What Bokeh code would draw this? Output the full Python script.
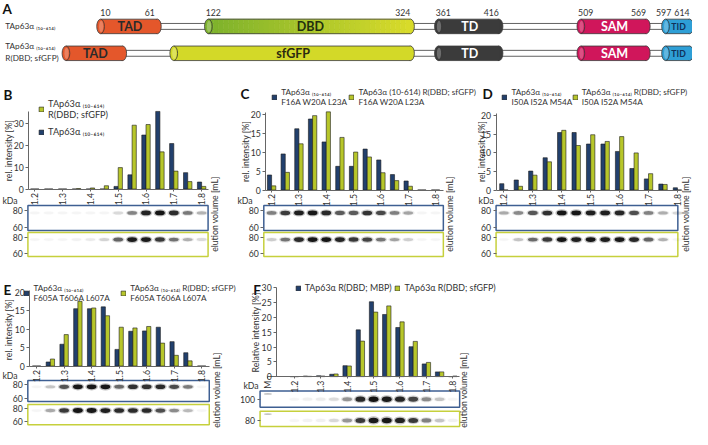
import numpy as np
from bokeh.plotting import figure
from bokeh.models import Range1d, LinearAxis, FixedTicker, Label, Legend, LegendItem, ColumnDataSource
from bokeh.layouts import column, row
from bokeh.embed import file_html
from bokeh.resources import INLINE
from bokeh.core.properties import value

SX = 692 / 708
SY = 429 / 445
FONT = "Lato"
TXT = "#333333"
AXC = "#666666"
BLUE = "#22406d"
GREEN = "#b7c62a"
BLUE_BOX = "#3e5f92"
GREEN_BOX = "#c6d03c"


def fs(px):
    return f"{px * SY:.1f}px"


SUB = "\u208d\u2081\u2080\u208b\u2086\u2081\u2084\u208e"
TAP = "TAp63\u03b1 " + SUB

# ---------------- data ----------------
# panel A: domain boundaries (residues)
dom_names_1 = ["TAD", "DBD", "TD", "SAM", "TID"]
dom_start_1 = [10, 122, 361, 509, 597]
dom_end_1 = [61, 324, 416, 569, 614]
sfgfp_len = 238
shift = sfgfp_len - (324 - 122)
dom_names_2 = ["TAD", "sfGFP", "TD", "SAM", "TID"]
dom_start_2 = [10 - shift, 324 - sfgfp_len, 361, 509, 597]
dom_end_2 = [61 - shift, 324, 416, 569, 614]

# elution fractions [mL]
fractions = [1.2, 1.25, 1.3, 1.35, 1.4, 1.45, 1.5, 1.55, 1.6, 1.65, 1.7, 1.75, 1.8]
vol_ticks = [1.2, 1.3, 1.4, 1.5, 1.6, 1.7, 1.8]
vol_labels = ["1.2", "1.3", "1.4", "1.5", "1.6", "1.7", "1.8"]

B_wt = [0, 0, 0, 0, 0, 0, 1.2, 6.5, 24.7, 35.5, 20.8, 7.5, 3.2]
B_gfp = [0, 0, 0, 0.2, 0.5, 1.5, 9.8, 29.2, 29.5, 17.0, 8.2, 3.4, 1.2]
C_wt = [4.0, 9.6, 16.3, 18.9, 12.8, 6.3, 6.3, 10.9, 8.0, 4.1, 2.4, 0, 0]
C_gfp = [1.1, 4.7, 12.3, 19.8, 20.8, 14.0, 10.1, 8.8, 4.6, 2.5, 1.0, 0, 0]
D_wt = [1.7, 2.7, 5.1, 8.7, 15.5, 15.5, 12.4, 12.4, 10.4, 5.8, 3.0, 1.6, 0.6]
D_gfp = [0, 1.0, 4.0, 7.6, 16.1, 12.0, 14.9, 13.1, 14.4, 10.0, 4.4, 1.5, 0]
E_wt = [0, 1.1, 5.9, 15.5, 15.5, 16.0, 4.5, 9.4, 9.5, 10.5, 6.6, 3.6, 0]
E_gfp = [0, 1.9, 8.5, 17.5, 15.7, 13.6, 10.5, 10.3, 10.7, 6.2, 2.9, 1.4, 0]
F_mbp = [0, 0.2, 0.3, 0.8, 3.7, 15.8, 25.3, 21.0, 16.6, 10.1, 4.3, 1.6, 0]
F_gfp = [0, 0.1, 0.2, 0.9, 3.6, 12.0, 21.8, 23.9, 18.5, 11.9, 4.8, 1.6, 0.2]

gel_markers = [80, 60]


# ---------------- panel A ----------------
def blend(c1, c2, t):
    a = np.array([int(c1[i:i + 2], 16) for i in (1, 3, 5)])
    b = np.array([int(c2[i:i + 2], 16) for i in (1, 3, 5)])
    m = (a + (b - a) * t).astype(int)
    return "#%02x%02x%02x" % tuple(m)


DOM_COL = {
    "TAD": ["#e4572b"],
    "DBD": [blend("#7db22c", "#d8db2a", t) for t in np.linspace(0, 1, 40)],
    "sfGFP": ["#d3d928"],
    "TD": ["#3b3b3b"],
    "SAM": ["#d0165b"],
    "TID": ["#2e9fd6"],
}
DOM_TXT = {"TAD": "#2a2a2a", "DBD": "#22300e", "sfGFP": "#2a2a10", "TD": "white", "SAM": "white", "TID": "#10305a"}
DOM_FS = {"TAD": 13, "DBD": 13, "sfGFP": 13, "TD": 13, "SAM": 13, "TID": 9}
PAD = 4  # cylinder cap half width (residue units)

pa = figure(width=692, height=round(75 * SY), x_range=Range1d(-98, 621), y_range=Range1d(-0.714, 1.964),
            x_axis_type=None, y_axis_type=None, min_border=0, outline_line_color=None,
            output_backend="svg", toolbar_location=None)
pa.grid.visible = False
EDGE = "#3a3a3a"


def cyl(s, e, yc, h, cols, capw=8):
    pa.ellipse(x=[e], y=[yc], width=capw, height=h, fill_color=cols[-1], line_color=EDGE, line_width=0.8)
    xs = np.linspace(s, e, len(cols) + 1)
    if len(cols) > 1:
        pa.quad(left=xs[:-1], right=xs[1:], top=yc + h / 2, bottom=yc - h / 2, fill_color=cols,
                line_color=cols, line_width=0.6)
    else:
        pa.quad(left=[s], right=[e], top=yc + h / 2, bottom=yc - h / 2, fill_color=cols[0], line_color=None)
    pa.segment(x0=[s, s], y0=[yc + h / 2, yc - h / 2], x1=[e, e], y1=[yc + h / 2, yc - h / 2],
               line_color=EDGE, line_width=0.8)
    pa.ellipse(x=[s], y=[yc], width=capw, height=h, fill_color=cols[0], line_color=EDGE, line_width=0.8)
    pa.ellipse(x=[s + 0.6], y=[yc], width=capw * 0.55, height=h * 0.78, fill_color="white", fill_alpha=0.25,
               line_color=None)


def draw_row(yc, names, starts, ends):
    x0 = (starts[0] + ends[0]) / 2
    x1 = (starts[-1] + ends[-1]) / 2
    cyl(x0, x1, yc, 0.22, ["#ffffff"], capw=5)
    for n, s, e in zip(names, starts, ends):
        cyl(s - PAD, e + PAD, yc, 0.54, DOM_COL[n])
        pa.text(x=[(s + e) / 2 + 1], y=[yc], text=[n], text_align="center", text_baseline="middle",
                text_font=value(FONT), text_font_style="bold", text_font_size=fs(DOM_FS[n]),
                text_color=DOM_TXT[n])


draw_row(1, dom_names_1, dom_start_1, dom_end_1)
draw_row(0, dom_names_2, dom_start_2, dom_end_2)

# residue numbers above row 1 (pushed apart where a domain is short)
lab_x, lab_t = [], []
for s, e in zip(dom_start_1, dom_end_1):
    a, b = s + 1, e - 4
    if b - a < 19:
        a = b - 19
    lab_x += [a, b]
    lab_t += [str(s), str(e)]
pa.text(x=lab_x, y=[1.52] * len(lab_x), text=lab_t, text_align="center", text_baseline="middle",
        text_font=value(FONT), text_font_size=fs(9), text_color=TXT)
pa.text(x=[-93], y=[1], text=[TAP], text_align="left", text_baseline="middle", text_font=value(FONT),
        text_font_size=fs(8.5), text_color=TXT)
pa.text(x=[-93], y=[0.05], text=[TAP + "\nR(DBD; sfGFP)"], text_align="left", text_baseline="middle",
        text_font=value(FONT), text_font_size=fs(8.5), text_color=TXT)
pa.text(x=[-96], y=[1.66], text=["A"], text_align="left", text_baseline="middle", text_font=value(FONT),
        text_font_style="bold", text_font_size=fs(14), text_color="#111111")


# ---------------- bar panels ----------------
def band_alpha(vals, vmax):
    v = np.array(vals, dtype=float)
    return list(0.03 + 0.97 * (1 - np.exp(-v / (vmax / 3.0))))


def make_panel(c):
    L, T, W, H = c["box"]
    kx, x12, base, ky = c["kx"], c["x12"], c["base"], c["ky"]

    def xd(X):
        return 1.2 + (X - x12) / kx * 0.05

    def yd(Y):
        return (base - Y) / ky

    p = figure(width=round(W * SX), height=round(H * SY),
               x_range=Range1d(xd(L), xd(L + W)), y_range=Range1d(yd(T + H), yd(T)),
               min_border=0, outline_line_color=None, output_backend="svg", toolbar_location=None)
    p.extra_x_ranges = {"px": Range1d(L, L + W)}
    p.extra_y_ranges = {"px": Range1d(T + H, T)}
    p.xgrid.visible = False
    p.ygrid.visible = False

    fr = np.array(fractions)
    bw = 0.05 * 4.3 / kx
    src = ColumnDataSource(dict(xa=fr - bw / 2, xb=fr + bw / 2, a=c["s1"], b=c["s2"]))
    r1 = p.vbar(x="xa", top="a", width=bw, source=src, fill_color=BLUE, line_color="#1b1b1b", line_width=0.6)
    r2 = p.vbar(x="xb", top="b", width=bw, source=src, fill_color=GREEN, line_color="#1b1b1b", line_width=0.6)

    # axes
    xa = p.xaxis[0]
    xa.fixed_location = 0
    xa.bounds = (c.get("xbound0", xd(c["axis_X"])), xd(c["right_X"]))
    xa.ticker = FixedTicker(ticks=c["xticks"])
    xa.major_label_overrides = dict(zip(c["xticks"], c["xlabels"]))
    xa.major_label_orientation = np.pi / 2
    xa.major_tick_out = 2
    xa.major_tick_in = 0
    xa.minor_tick_out = 0
    xa.minor_tick_in = 0
    xa.major_label_standoff = 2
    xa.axis_line_color = AXC
    xa.major_tick_line_color = AXC
    xa.major_label_text_font = FONT
    xa.major_label_text_font_size = fs(9)
    xa.major_label_text_color = TXT

    ya = p.yaxis[0]
    ya.fixed_location = xd(c["axis_X"])
    ya.bounds = (0, c["ytop"])
    ya.ticker = FixedTicker(ticks=c["yticks"])
    ya.major_tick_out = 3
    ya.major_tick_in = 0
    ya.minor_tick_out = 0
    ya.minor_tick_in = 0
    ya.major_label_standoff = 2
    ya.axis_line_color = AXC
    ya.major_tick_line_color = AXC
    ya.major_label_text_font = FONT
    ya.major_label_text_font_size = fs(9)
    ya.major_label_text_color = TXT

    # gels
    g0, g1 = xd(c["gel_X"][0]), xd(c["gel_X"][1])
    vmax = max(max(c["s1"]), max(c["s2"]))
    ticks, labs = [], {}
    for st in c["strips"]:
        Yt, Yb, ktop, kbot = st["Yt"], st["Yb"], st["ktop"], st["kbot"]

        def kY(k):
            return Yt + (ktop - k) / (ktop - kbot) * (Yb - Yt)

        p.quad(left=g0, right=g1, top=Yt, bottom=Yb, y_range_name="px", fill_color="white",
               line_color=st["color"], line_width=1.5)
        vals = c["s1"] if st["series"] == 0 else c["s2"]
        al = band_alpha(vals, vmax)
        hh = [st["bh"] * (0.7 + 0.6 * a) for a in al]
        yb = kY(st["kband"])
        p.ellipse(x=fr, y=[yb] * len(fr), width=0.05 * 13 / kx, height=[h * 1.5 for h in hh],
                  y_range_name="px", fill_color="#222222", fill_alpha=[a * 0.3 for a in al], line_color=None)
        p.ellipse(x=fr, y=[yb] * len(fr), width=0.05 * 10 / kx, height=hh, y_range_name="px",
                  fill_color="#0c0c0c", fill_alpha=al, line_color=None)
        if c.get("mlane") is not None:
            p.ellipse(x=[c["mlane"]], y=[Yt + 3], width=0.05 * 8 / kx, height=2, y_range_name="px",
                      fill_color="#555555", fill_alpha=0.35, line_color=None)
        for k in st["marks"]:
            pos = round(kY(k), 3)
            ticks.append(pos)
            labs[pos] = str(k)
    gax = LinearAxis(y_range_name="px", fixed_location=g0, ticker=FixedTicker(ticks=ticks),
                     major_label_overrides=labs, axis_line_color=None, major_tick_out=3, major_tick_in=0,
                     minor_tick_out=0, minor_tick_in=0, major_tick_line_color=AXC, major_label_standoff=2,
                     major_label_text_font=FONT, major_label_text_font_size=fs(9), major_label_text_color=TXT)
    p.add_layout(gax, "left")

    # legends (one per entry so each can sit where the reference puts it)
    rends = [r1, r2]
    for (ri, text, (lx, lyb)) in c["legend"]:
        leg = Legend(items=[LegendItem(label=text, renderers=[rends[ri]])],
                     location=((lx - L) * SX, (T + H - lyb) * SY), orientation="vertical",
                     glyph_width=6, glyph_height=6, label_standoff=4, padding=0, margin=0,
                     background_fill_alpha=0, border_line_color=None, label_text_font=FONT,
                     label_text_font_size=fs(c.get("legend_fs", 8.5)), label_text_color=TXT, label_height=8,
                     label_width=10, label_text_line_height=1.2)
        p.add_layout(leg)

    def lab(X, Y, text, size, angle=0.0, bold=False, align="left", color=TXT):
        p.add_layout(Label(x=X, y=Y, x_range_name="px", y_range_name="px", text=text, angle=angle,
                           text_align=align, text_baseline="middle", text_font=FONT, text_font_size=fs(size),
                           text_font_style="bold" if bold else "normal", text_color=color))

    lab(*c["letter_pos"], c["letter"], 14, bold=True, color="#111111")
    lab(*c["ylabel_pos"], c["ylabel"], 9, angle=np.pi / 2, align="center")
    lab(*c["kda_pos"], "kDa", 9)
    lab(*c["side_pos"], "elution volume [mL]", 9, angle=np.pi / 2, align="center")
    return p


def strips2(Y1, Y2, Y3, Y4):
    return [dict(Yt=Y1, Yb=Y2, ktop=86, kbot=56, marks=gel_markers, kband=77, color=BLUE_BOX, series=0, bh=4),
            dict(Yt=Y3, Yb=Y4, ktop=86, kbot=56, marks=gel_markers, kband=77, color=GREEN_BOX, series=1, bh=4)]


cfgB = dict(box=(0, 75, 240, 217), kx=14.2, x12=35, axis_X=29, right_X=212, base=196, ky=2.27, ytop=35.5,
            yticks=[0, 10, 20, 30], s1=B_wt, s2=B_gfp, xticks=vol_ticks, xlabels=vol_labels,
            legend=[(1, TAP + "\nR(DBD; sfGFP)", (39, 125)), (0, TAP, (39, 143))], legend_fs=9.5,
            letter="B", letter_pos=(3, 98),
            ylabel="rel. intensity [%]", ylabel_pos=(8, 156), kda_pos=(2, 208), gel_X=(28, 212),
            strips=strips2(213, 239, 241, 266), side_pos=(219, 222))
cfgC = dict(box=(240, 75, 248, 217), kx=14.0, x12=277, axis_X=271, right_X=453, base=197, ky=3.9, ytop=20.5,
            yticks=[0, 5, 10, 15, 20], s1=C_wt, s2=C_gfp, xticks=vol_ticks, xlabels=vol_labels,
            legend=[(0, TAP + "\nF16A W20A L23A", (277, 111)),
                    (1, "TAp63\u03b1 (10-614) R(DBD; sfGFP)\nF16A W20A L23A", (356, 111))],
            letter="C", letter_pos=(245, 97), ylabel="rel. intensity [%]", ylabel_pos=(250, 157),
            kda_pos=(242, 208), gel_X=(269, 453), strips=strips2(213, 239, 241, 266), side_pos=(459, 222))
cfgD = dict(box=(488, 75, 220, 217), kx=14.8, x12=515, axis_X=507, right_X=697, base=197, ky=3.85, ytop=20.5,
            yticks=[0, 5, 10, 15, 20], s1=D_wt, s2=D_gfp, xticks=vol_ticks, xlabels=vol_labels,
            legend=[(0, TAP + "\nI50A I52A M54A", (513, 111)),
                    (1, TAP + " R(DBD; sfGFP)\nI50A I52A M54A", (585, 111))],
            letter="D", letter_pos=(493, 97), ylabel="rel. intensity [%]", ylabel_pos=(492, 157),
            kda_pos=(489, 208), gel_X=(507, 693), strips=strips2(213, 239, 241, 266), side_pos=(701, 222))
cfgE = dict(box=(0, 292, 246, 153), kx=14.1, x12=37, axis_X=30, right_X=214, base=380, ky=3.85, ytop=20.5,
            yticks=[0, 5, 10, 15, 20], s1=E_wt, s2=E_gfp, xticks=vol_ticks, xlabels=vol_labels,
            legend=[(0, TAP + "\nF605A T606A L607A", (24, 315)),
                    (1, TAP + " R(DBD; sfGFP)\nF605A T606A L607A", (123, 315))],
            letter="E", letter_pos=(3, 301), ylabel="rel. intensity [%]", ylabel_pos=(8, 342), kda_pos=(2, 390),
            gel_X=(28, 214), strips=strips2(395, 417, 420, 441), side_pos=(221, 405))
cfgF = dict(box=(246, 292, 462, 153), kx=13.5, x12=301, axis_X=283, right_X=470, base=391, ky=3.08, ytop=30,
            yticks=[0, 5, 10, 15, 20, 25, 30], s1=F_mbp, s2=F_gfp, xticks=[1.1] + vol_ticks,
            xlabels=["M"] + vol_labels, xbound0=1.1,
            legend=[(0, "TAp63\u03b1 R(DBD; MBP)", (302, 305)),
                    (1, "TAp63\u03b1 R(DBD; sfGFP)", (404, 305))], legend_fs=9.2,
            letter="F", letter_pos=(259, 301), ylabel="Relative intensity [%]", ylabel_pos=(261, 345),
            kda_pos=(249, 400), gel_X=(266, 470), mlane=1.1,
            strips=[dict(Yt=406, Yb=423, ktop=112, kbot=88, marks=[100], kband=100, color=BLUE_BOX, series=0,
                         bh=4.5),
                    dict(Yt=427, Yb=443, ktop=92, kbot=72, marks=[80], kband=80, color=GREEN_BOX, series=1,
                         bh=4.5)],
            side_pos=(474, 405))

pB, pC, pD, pE, pF = [make_panel(c) for c in (cfgB, cfgC, cfgD, cfgE, cfgF)]

layout = column(pa, row(pB, pC, pD), row(pE, pF))
open("out.html", "w").write(file_html(layout, INLINE))
